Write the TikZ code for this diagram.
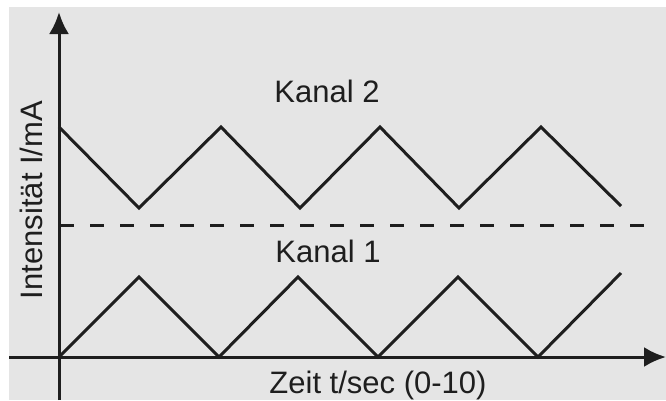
\documentclass[tikz,border=0pt]{standalone}
\usepackage{fontspec}
\setmainfont{Liberation Sans}
\usetikzlibrary{arrows.meta}
\definecolor{bg}{HTML}{E5E5E5}
\definecolor{ink}{HTML}{1E1E1E}
\begin{document}
\begin{tikzpicture}[x=1pt,y=-1pt,
  wave/.style={draw=ink,line width=3pt,line join=miter},
  axis/.style={draw=ink,line width=3pt,-{Latex[length=22pt,width=20pt]}},
  sep/.style={draw=ink,line width=3pt,dash pattern=on 14pt off 16pt},
  lbl/.style={text=ink,font=\fontsize{31}{31}\selectfont,inner sep=0pt,anchor=base}]
\useasboundingbox (0,0) rectangle (666,400);
\fill[bg] (9,7) rectangle (666,400);
\coordinate (xs) at (9,357);
\coordinate (xe) at (666,357);
\coordinate (ys) at (59,400);
\coordinate (ye) at (59,12);
\coordinate (ds) at (60,225);
\coordinate (de) at (652,225);
\draw[sep] (ds) -- (de);
\draw[wave] (59,127) -- (139,208) -- (221,127) -- (300,208) -- (380,127) -- (459,208) -- (541,127) -- (621,206);
\draw[wave] (59,357) -- (139,277) -- (219,357) -- (298,277) -- (378,357) -- (458,277) -- (538,357) -- (621,273);
\draw[axis] (xs) -- (xe);
\draw[axis] (ys) -- (ye);
\node[lbl] (k2) at (327,102) {Kanal 2};
\node[lbl] (k1) at (328,262) {Kanal 1};
\node[lbl] (xl) at (378,393) {Zeit t/sec (0-10)};
\node[lbl,rotate=90] (yl) at (42,200) {Intensität I/mA};
\end{tikzpicture}
\end{document}
